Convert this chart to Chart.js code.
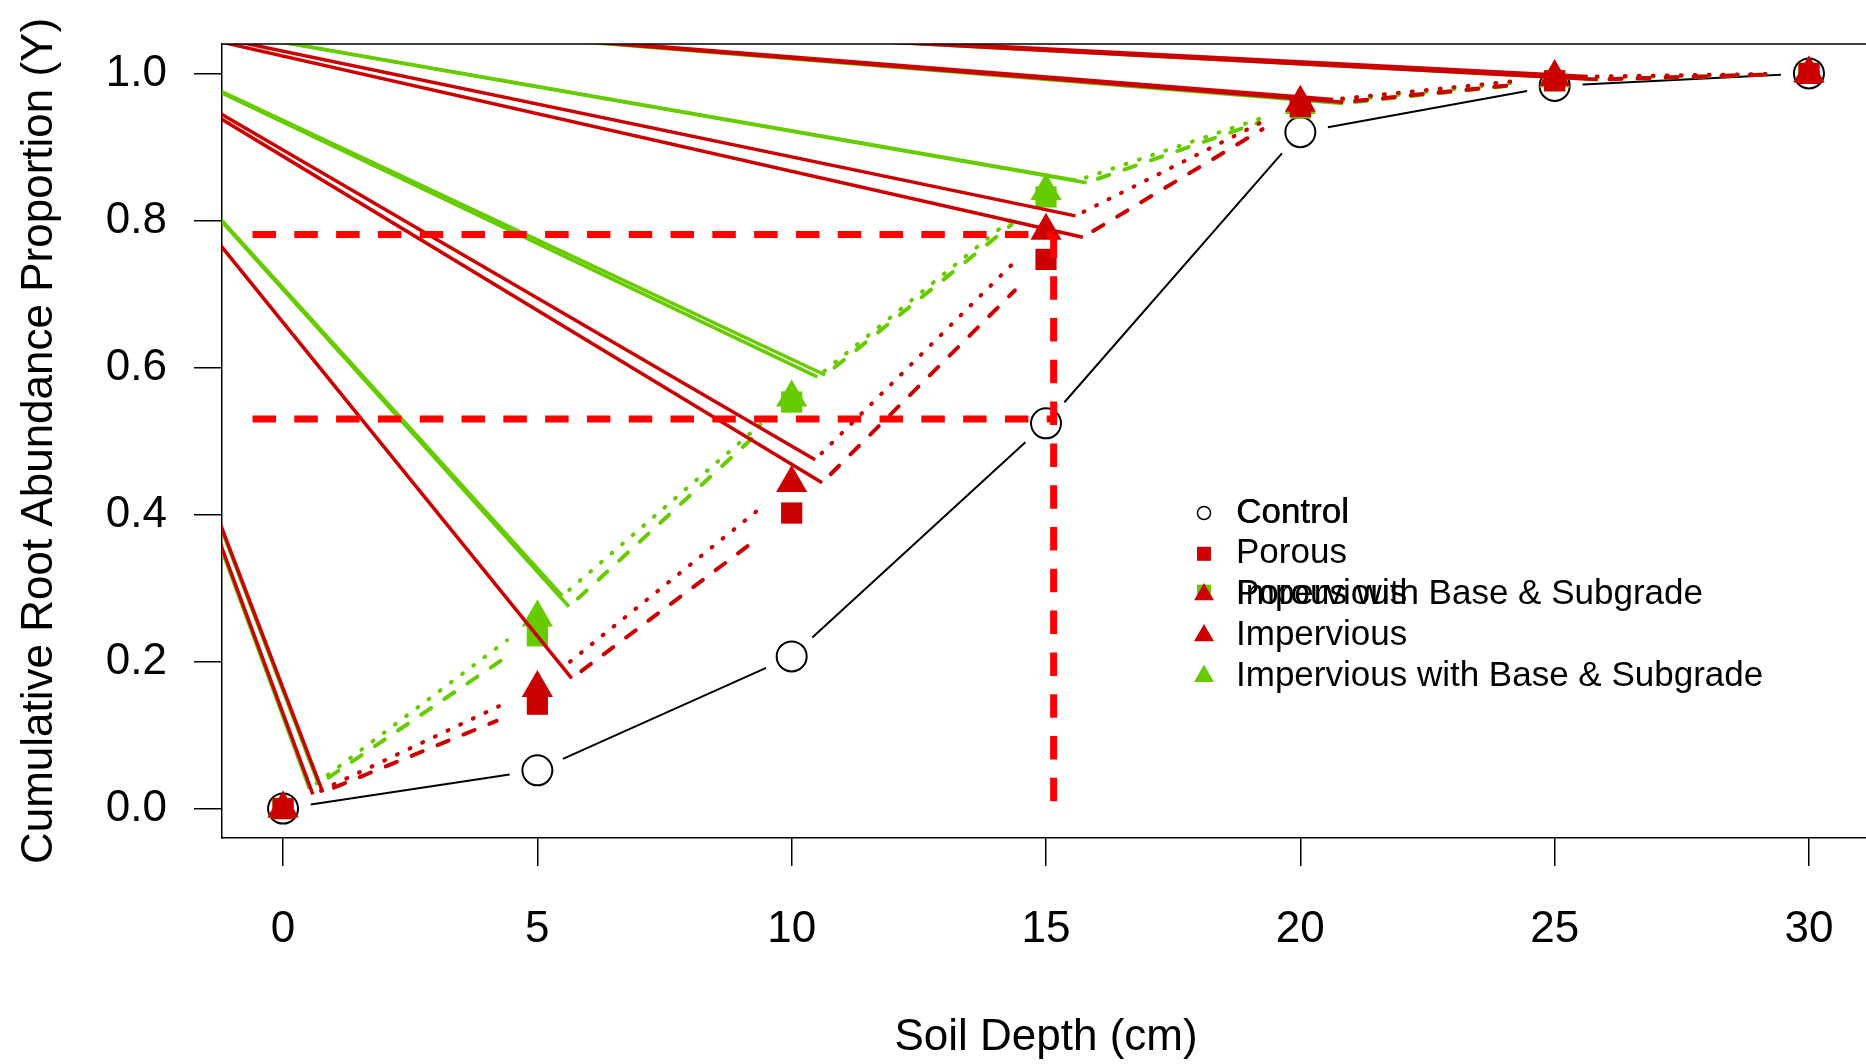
<!DOCTYPE html>
<html>
<head>
<meta charset="utf-8">
<script src="https://cdn.jsdelivr.net/npm/chart.js@4.4.1/dist/chart.umd.min.js"></script>
<style>
  html, body { margin: 0; padding: 0; background: #fff; overflow: hidden; width: 1866px; height: 1064px; }
  canvas { display: block; }
</style>
</head>
<body>
<!-- the source plot box runs a few pixels past the right edge of the page -->
<canvas id="roots" width="1870" height="1064"></canvas>
<script>
// values
const depths = [0, 5, 10, 15, 20, 25, 30];
const control = [0, 0.052, 0.207, 0.524, 0.92, 0.983, 1.0];
const porous = [0, 0.142, 0.402, 0.747, 0.955, 0.99, 1.0];
const porousBase = [0, 0.235, 0.553, 0.832, 0.953, 0.99, 1.0];
const impervious = [0, 0.164, 0.443, 0.786, 0.96, 0.995, 1.0];
const imperviousBase = [0, 0.26, 0.559, 0.84, 0.957, 0.993, 1.0];

const xTicks = [0, 5, 10, 15, 20, 25, 30];
const yTicks = [0, 0.2, 0.4, 0.6, 0.8, 1.0];

// red dashed guides
const guideLevels = [0.53, 0.781];
const guideDepth = 15.15;
const guideStart = -0.6;

const legendNames = ["Control", "Porous", "Porous with Base & Subgrade",
  "Impervious", "Impervious with Base & Subgrade"];

// stray strokes in the source all run in from near the page corner
const strayOrigin = { x: -5.2, y: 1.105 };

const RED = "#CC0000", GREEN = "#66CC00", GUIDE = "#FF0000";
const FONT = "'Liberation Sans', Arial, Helvetica, sans-serif";
const DASHED = [12, 16], DOTTED = [1, 13];

// plot box is fixed below, so data units map to a known number of pixels
const X_MIN = -1.2, X_MAX = 31.2, Y_MIN = -0.04, Y_MAX = 1.04;
const BOX = { left: 222, top: 44, right: 1870, bottom: 838 };
const PX_X = (BOX.right - BOX.left) / (X_MAX - X_MIN);
const PX_Y = (BOX.bottom - BOX.top) / (Y_MAX - Y_MIN);

function toward(x0, y0, x1, y1, d) {
  const dx = (x1 - x0) * PX_X, dy = (y1 - y0) * PX_Y;
  const t = d / Math.hypot(dx, dy);
  return { x: x0 + (x1 - x0) * t, y: y0 + (y1 - y0) * t };
}
const BREAK = () => ({ x: 0, y: null });

// type="b" style segments: a gap is left at both ends of each segment
function gapped(vals, gapA, gapB) {
  const out = [];
  for (let i = 0; i + 1 < depths.length; i++) {
    out.push(toward(depths[i], vals[i], depths[i + 1], vals[i + 1], gapA));
    out.push(toward(depths[i + 1], vals[i + 1], depths[i], vals[i], gapB));
    out.push(BREAK());
  }
  return out;
}
function stray(vals, gap, skip) {
  const out = [];
  for (let i = 0; i + 1 < depths.length; i++) {
    if (skip.includes(i)) continue;
    out.push(strayOrigin);
    out.push(toward(depths[i], vals[i], depths[i + 1], vals[i + 1], gap));
    out.push(BREAK());
  }
  return out;
}
const pts = vals => vals.map((v, i) => ({ x: depths[i], y: v }));

const series = [
  { vals: porousBase, color: GREEN, mark: "rect", r: 15, dash: DASHED, gap: 43, lead: 12, end: 44, skip: [] },
  { vals: imperviousBase, color: GREEN, mark: "triangle", r: 18, dash: DOTTED, gap: 33, lead: 9, end: 38, skip: [] },
  { vals: porous, color: RED, mark: "rect", r: 15, dash: DASHED, gap: 43, lead: 12, end: 44, skip: [] },
  { vals: impervious, color: RED, mark: "triangle", r: 18, dash: DOTTED, gap: 33, lead: 9, end: 38, skip: [1] },
];

const lineDefaults = { showLine: true, pointRadius: 0, pointHoverRadius: 0, fill: false, tension: 0, spanGaps: false };

// listed bottom to top
const layers = [];
layers.push({ ...lineDefaults, data: gapped(control, 28, 28), borderColor: "#000", borderWidth: 2 });
layers.push({ data: pts(control), showLine: false, pointStyle: "circle", pointRadius: 15,
  pointBorderColor: "#000", pointBackgroundColor: "rgba(0,0,0,0)", pointBorderWidth: 2 });
series.forEach(s => {
  layers.push({ ...lineDefaults, data: gapped(s.vals, s.gap + s.lead, s.end), borderColor: s.color,
    borderWidth: 4, borderDash: s.dash, borderCapStyle: "round" });
  layers.push({ ...lineDefaults, data: stray(s.vals, s.gap, s.skip), borderColor: s.color, borderWidth: 3.5 });
  layers.push({ data: pts(s.vals), showLine: false, pointStyle: s.mark, pointRadius: s.r,
    pointBackgroundColor: s.color, pointBorderWidth: 0 });
});
const guideData = [];
guideLevels.forEach(g => {
  guideData.push({ x: guideStart, y: g }, { x: guideDepth, y: g }, BREAK());
});
guideData.push({ x: guideDepth, y: guideLevels[1] }, { x: guideDepth, y: 0 });
layers.push({ ...lineDefaults, data: guideData, borderColor: GUIDE, borderWidth: 7,
  borderDash: [23.5, 18.3], borderCapStyle: "butt" });

layers.forEach((d, i) => { d.order = layers.length - i; });

const legendRows = [
  { names: [legendNames[0]], marks: [{ kind: "circle", color: "#000" }], twice: true },
  { names: [legendNames[1]], marks: [{ kind: "rect", color: RED }] },
  { names: [legendNames[2], legendNames[3]], marks: [{ kind: "rect", color: GREEN, dy: -3 }, { kind: "triangle", color: RED }] },
  { names: [legendNames[3]], marks: [{ kind: "triangle", color: RED }] },
  { names: [legendNames[4]], marks: [{ kind: "triangle", color: GREEN }] },
];

const boxTop = {
  id: "boxTop",
  afterDraw(chart) {
    const { ctx, chartArea } = chart;
    ctx.save();
    ctx.strokeStyle = "#000";
    ctx.lineWidth = 1.5;
    ctx.beginPath();
    ctx.moveTo(chartArea.left, chartArea.top);
    ctx.lineTo(chartArea.right, chartArea.top);
    ctx.stroke();
    ctx.restore();
  }
};

const rLegend = {
  id: "rLegend",
  afterDraw(chart) {
    const { ctx, chartArea } = chart;
    const sx = chartArea.left + 982, tx = chartArea.left + 1014;
    ctx.save();
    ctx.font = "35px " + FONT;
    ctx.textBaseline = "middle";
    ctx.textAlign = "left";
    legendRows.forEach((row, k) => {
      const y = 513 + k * 40.8;
      row.marks.forEach(m => {
        const my = y + (m.dy || 0);
        ctx.beginPath();
        if (m.kind === "circle") {
          ctx.strokeStyle = m.color;
          ctx.lineWidth = 1.5;
          ctx.arc(sx, my, 6.5, 0, Math.PI * 2);
          ctx.stroke();
        } else if (m.kind === "rect") {
          ctx.fillStyle = m.color;
          ctx.fillRect(sx - 7, my - 7, 14, 14);
        } else {
          const r = 11.5;
          ctx.fillStyle = m.color;
          ctx.moveTo(sx, my - r);
          ctx.lineTo(sx + r * 0.866, my + r / 2);
          ctx.lineTo(sx - r * 0.866, my + r / 2);
          ctx.closePath();
          ctx.fill();
        }
      });
      ctx.fillStyle = "#000";
      row.names.forEach(n => {
        ctx.fillText(n, tx, y);
        if (row.twice) ctx.fillText(n, tx + 0.4, y);
      });
    });
    ctx.restore();
  }
};

Chart.defaults.font.family = FONT;
Chart.defaults.color = "#000";

new Chart(document.getElementById("roots"), {
  type: "scatter",
  data: { datasets: layers },
  options: {
    responsive: false,
    animation: false,
    devicePixelRatio: 1,
    layout: { autoPadding: false, padding: { top: BOX.top, left: 0, right: 0, bottom: 0 } },
    plugins: { legend: { display: false }, tooltip: { enabled: false } },
    events: [],
    scales: {
      x: {
        type: "linear",
        min: X_MIN,
        max: X_MAX,
        afterBuildTicks: s => { s.ticks = xTicks.map(v => ({ value: v })); },
        afterFit: s => {
          s.height = 1064 - BOX.bottom;
          s.paddingLeft = 0; s.paddingRight = 0;
        },
        ticks: { font: { size: 44 }, color: "#000", padding: 37, maxRotation: 0, autoSkip: false },
        grid: { drawOnChartArea: false, drawTicks: true, tickLength: 28, color: "#000", lineWidth: 1.5 },
        border: { display: true, color: "#000", width: 1.5 },
        title: { display: true, text: "Soil Depth (cm)", font: { size: 44 }, color: "#000", padding: { top: 0, bottom: 0 } }
      },
      y: {
        type: "linear",
        min: Y_MIN,
        max: Y_MAX,
        afterBuildTicks: s => { s.ticks = yTicks.map(v => ({ value: v })); },
        afterFit: s => {
          s.width = BOX.left;
          s.paddingTop = 0; s.paddingBottom = 0;
        },
        ticks: { font: { size: 44 }, color: "#000", padding: 27, callback: v => v.toFixed(1) },
        grid: { drawOnChartArea: false, drawTicks: true, tickLength: 28, color: "#000", lineWidth: 1.5 },
        border: { display: true, color: "#000", width: 1.5 },
        title: { display: true, text: "Cumulative Root Abundance Proportion (Y)", font: { size: 44 }, color: "#000", padding: { top: 13, bottom: 0 } }
      }
    }
  },
  plugins: [boxTop, rLegend]
});
</script>
</body>
</html>
